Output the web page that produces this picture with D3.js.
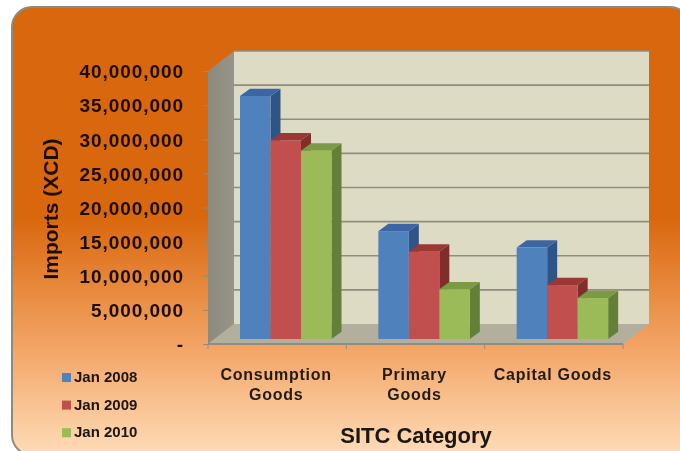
<!DOCTYPE html>
<html>
<head>
<meta charset="utf-8">
<script src="https://cdn.jsdelivr.net/npm/d3@7"></script>
<style>
  html, body { margin: 0; padding: 0; background: #fff; }
  svg { display: block; font-family: "Liberation Sans", Arial, sans-serif; font-weight: bold; }
</style>
</head>
<body>
<div id="app"></div>
<script>
const categories = ["Consumption Goods", "Primary Goods", "Capital Goods"];
const categoryLines = [["Consumption", "Goods"], ["Primary", "Goods"], ["Capital Goods"]];
const seriesNames = ["Jan 2008", "Jan 2009", "Jan 2010"];
const jan2008 = [35600000, 15800000, 13400000];
const jan2009 = [29100000, 12800000, 7900000];
const jan2010 = [27600000, 7300000, 6000000];
const seriesValues = [jan2008, jan2009, jan2010];
const yTicks = [0, 5000000, 10000000, 15000000, 20000000, 25000000, 30000000, 35000000, 40000000];

const w = 680, h = 451;
const front = { left: 208, right: 623, bottom: 344, top: 71 };
const wallDx = 26, wallDy = -20;   // front plane to back wall
const barDx = 32, barShiftY = -5;  // bars stand a bit inside the floor
const barDepthX = 10, barDepthY = -7.3;
const colors = {
  face: ["#4f81bd", "#c0504d", "#9bbb59"],
  top: ["#3a66a3", "#9a3735", "#7b9a44"],
  side: ["#2f5588", "#7f2d2c", "#647f39"]
};

const svg = d3.select("#app").append("svg")
  .attr("width", w)
  .attr("height", h);

const defs = svg.append("defs");
const bg = defs.append("linearGradient")
  .attr("id", "bg")
  .attr("x1", 0).attr("y1", 0).attr("x2", 0).attr("y2", 1);
bg.append("stop").attr("offset", "0.47").attr("stop-color", "#d9670d");
bg.append("stop").attr("offset", "0.76").attr("stop-color", "#f3a566");
bg.append("stop").attr("offset", "1").attr("stop-color", "#fedcb8");

const sideGrad = defs.append("linearGradient")
  .attr("id", "sideWall")
  .attr("x1", 0).attr("y1", 0).attr("x2", 1).attr("y2", 0);
sideGrad.append("stop").attr("offset", "0").attr("stop-color", "#8c8a7c");
sideGrad.append("stop").attr("offset", "1").attr("stop-color", "#97948a");

const blur = defs.append("filter").attr("id", "soft");
blur.append("feGaussianBlur").attr("stdDeviation", 0.35);

svg.append("rect")
  .attr("x", 12).attr("y", 7)
  .attr("width", 678).attr("height", 448)
  .attr("rx", 20)
  .attr("fill", "url(#bg)")
  .attr("stroke", "#8b8b80")
  .attr("stroke-width", 2);

const y = d3.scaleLinear().domain([0, 40000000]).range([front.bottom, front.top]);
const x0 = d3.scaleBand().domain(categories).range([front.left, front.right]);
const x1 = d3.scaleBand().domain(seriesNames).range([0, 91.5]);

const chart = svg.append("g").attr("filter", "url(#soft)");
const poly = pts => pts.map(p => p.join(",")).join(" ");

// back wall
chart.append("rect")
  .attr("x", front.left + wallDx)
  .attr("y", y(40000000) + wallDy)
  .attr("width", front.right - front.left)
  .attr("height", y(0) - y(40000000))
  .attr("fill", "#dedbc4");

// side wall
chart.append("polygon")
  .attr("points", poly([
    [front.left, y(0)], [front.left, y(40000000)],
    [front.left + wallDx, y(40000000) + wallDy], [front.left + wallDx, y(0) + wallDy]
  ]))
  .attr("fill", "url(#sideWall)");

// gridlines on the back wall
chart.selectAll("line.grid")
  .data(yTicks.slice(1))
  .enter()
  .append("line")
  .attr("class", "grid")
  .attr("x1", front.left + wallDx)
  .attr("x2", front.right + wallDx)
  .attr("y1", d => y(d) + wallDy)
  .attr("y2", d => y(d) + wallDy)
  .attr("stroke", "#8f8d80")
  .attr("stroke-width", 1.6);

// floor
chart.append("polygon")
  .attr("points", poly([
    [front.left, y(0)], [front.left + wallDx, y(0) + wallDy],
    [front.right + wallDx, y(0) + wallDy], [front.right, y(0)]
  ]))
  .attr("fill", "#b3af9f");
chart.append("line")
  .attr("x1", front.left).attr("x2", front.right)
  .attr("y1", y(0)).attr("y2", y(0))
  .attr("stroke", "#8f8d80").attr("stroke-width", 2);

// bars, left to right so each one covers the side of the one before
categories.forEach((cat, c) => {
  seriesNames.forEach((name, s) => {
    const left = x0(cat) + barDx + x1(name);
    const right = left + x1.bandwidth();
    const top = y(seriesValues[s][c]) + barShiftY;
    const bottom = y(0) + barShiftY;
    const g = chart.append("g");
    g.append("polygon")
      .attr("points", poly([
        [right, bottom], [right, top],
        [right + barDepthX, top + barDepthY], [right + barDepthX, bottom + barDepthY]
      ]))
      .attr("fill", colors.side[s]);
    g.append("polygon")
      .attr("points", poly([
        [left, top], [left + barDepthX, top + barDepthY],
        [right + barDepthX, top + barDepthY], [right, top]
      ]))
      .attr("fill", colors.top[s]);
    g.append("rect")
      .attr("x", left).attr("y", top)
      .attr("width", x1.bandwidth())
      .attr("height", bottom - top)
      .attr("fill", colors.face[s]);
  });
});

const labels = svg.append("g").attr("filter", "url(#soft)");

// y axis
const yAxis = d3.axisLeft(y)
  .tickValues(yTicks)
  .tickSize(5)
  .tickPadding(19)
  .tickFormat(d => d === 0 ? "-" : d3.format(",")(d));

const yG = labels.append("g")
  .attr("id", "y-axis")
  .attr("transform", `translate(${front.left}, 0)`)
  .call(yAxis);
yG.select(".domain").remove();
yG.selectAll(".tick line").attr("stroke", "#8f8d80");
yG.selectAll(".tick text")
  .attr("font-size", 19)
  .attr("letter-spacing", 0.95)
  .attr("fill", "#1c0f04")
  .attr("dy", "0.36em");

// x axis ticks sit on the band edges
labels.append("g").selectAll("line")
  .data(categories.map(c => x0(c)).concat(x0.range()[1]))
  .enter()
  .append("line")
  .attr("x1", d => d).attr("x2", d => d)
  .attr("y1", y(0)).attr("y2", y(0) + 5)
  .attr("stroke", "#8f8d80");

const xAxis = d3.axisBottom(x0).tickSize(0).tickPadding(25);
const xG = labels.append("g")
  .attr("id", "x-axis")
  .attr("transform", `translate(0, ${y(0)})`)
  .call(xAxis);
xG.select(".domain").remove();
xG.selectAll(".tick text").each(function (d, i) {
  const t = d3.select(this);
  t.text(null)
    .attr("font-size", 16)
    .attr("letter-spacing", 0.75)
    .attr("fill", "#221a14");
  categoryLines[i].forEach((line, j) => {
    t.append("tspan")
      .attr("x", -1)
      .attr("dy", j === 0 ? "0.71em" : 20)
      .text(line);
  });
});

// axis titles
labels.append("text")
  .attr("id", "y-label")
  .attr("text-anchor", "middle")
  .attr("transform", "translate(58, 209) rotate(-90)")
  .attr("font-size", 21)
  .attr("fill", "#1c0f04")
  .text("Imports (XCD)");

labels.append("text")
  .attr("id", "x-label")
  .attr("text-anchor", "middle")
  .attr("x", 416)
  .attr("y", 443)
  .attr("font-size", 22)
  .attr("fill", "#1a1410")
  .text("SITC Category");

// legend
const legend = labels.append("g").attr("id", "legend");
legend.selectAll("rect")
  .data(seriesNames)
  .enter()
  .append("rect")
  .attr("x", 62)
  .attr("y", (d, i) => 373 + i * 27.6)
  .attr("width", 9)
  .attr("height", 9)
  .attr("fill", (d, i) => colors.face[i]);
legend.selectAll("text")
  .data(seriesNames)
  .enter()
  .append("text")
  .attr("x", 74)
  .attr("y", (d, i) => 382 + i * 27.6)
  .attr("font-size", 15)
  .attr("fill", "#1c1410")
  .text(d => d);
</script>
</body>
</html>
